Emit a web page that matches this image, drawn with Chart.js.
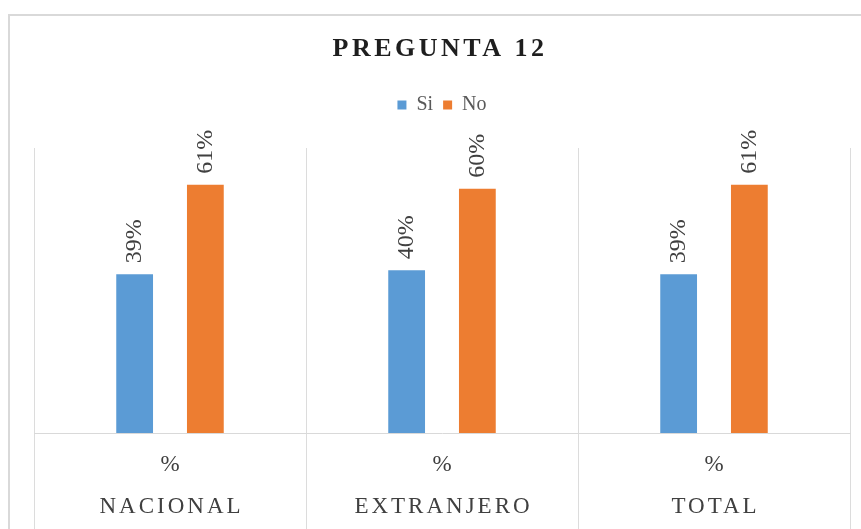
<!DOCTYPE html>
<html>
<head>
<meta charset="utf-8">
<script src="https://cdn.jsdelivr.net/npm/chart.js@4"></script>
<style>
    html, body { margin: 0; padding: 0; background: #fff; }
    #wrap { position: relative; width: 861px; height: 529px; }
    #frame { position: absolute; left: 8px; top: 14px; right: 0; bottom: 0;
             border-top: 2px solid #d9d9d9; border-left: 2px solid #d9d9d9; }
    canvas { position: absolute; left: 0; top: 0; }
</style>
</head>
<body>
<div id="wrap">
    <div id="frame"></div>
    <canvas id="pregunta12" width="861" height="529"></canvas>
</div>
<script>
const categories = ['NACIONAL', 'EXTRANJERO', 'TOTAL'];
const subLabel = '%';
const siValues = [39, 40, 39];
const noValues = [61, 60, 61];
const chartTitle = 'PREGUNTA 12';

const serif = '"Liberation Serif", "Times New Roman", serif';

// rotated value labels above each bar
const barLabels = {
    id: 'barLabels',
    afterDatasetsDraw(chart) {
        const ctx = chart.ctx;
        ctx.save();
        ctx.font = '24px ' + serif;
        ctx.fillStyle = '#404040';
        ctx.textAlign = 'left';
        ctx.textBaseline = 'middle';
        chart.data.datasets.forEach((ds, di) => {
            chart.getDatasetMeta(di).data.forEach((bar, i) => {
                ctx.save();
                ctx.translate(bar.x, bar.y - 11);
                ctx.rotate(-Math.PI / 2);
                ctx.fillText(ds.data[i] + '%', 0, 0);
                ctx.restore();
            });
        });
        ctx.restore();
    }
};

// title and two-level category labels, drawn with letter spacing
const textLayer = {
    id: 'textLayer',
    afterDraw(chart) {
        const ctx = chart.ctx;
        const x = chart.scales.x;
        ctx.save();
        ctx.textAlign = 'center';
        ctx.textBaseline = 'middle';
        ctx.fillStyle = '#1e1e1e';
        ctx.letterSpacing = '3.5px';
        ctx.font = 'bold 26px ' + serif;
        ctx.fillText(chartTitle, 440, 49);
        ctx.fillStyle = '#404040';
        categories.forEach((c, i) => {
            const px = x.getPixelForValue(i);
            ctx.letterSpacing = '0px';
            ctx.font = '23px ' + serif;
            ctx.fillText(subLabel, px, 465);
            ctx.letterSpacing = '3px';
            ctx.font = '23px ' + serif;
            ctx.fillText(c, px + 1.5, 507);
        });
        ctx.restore();
    }
};

// extra room between legend and plot
const legendGap = {
    id: 'legendGap',
    beforeInit(chart) {
        const fit = chart.legend.fit;
        chart.legend.fit = function () {
            fit.bind(chart.legend)();
            this.height += 23;
        };
    }
};

new Chart(document.getElementById('pregunta12'), {
    type: 'bar',
    data: {
        labels: categories,
        datasets: [
            { label: 'Si', data: siValues, backgroundColor: '#5b9bd5' },
            { label: 'No', data: noValues, backgroundColor: '#ed7d31' }
        ]
    },
    options: {
        responsive: false,
        animation: false,
        datasets: { bar: { categoryPercentage: 0.52, barPercentage: 0.52 } },
        layout: { padding: { top: 85, left: 34, right: 11, bottom: 0 } },
        plugins: {
            title: { display: false },
            tooltip: { enabled: false },
            legend: {
                position: 'top',
                labels: {
                    font: { family: serif, size: 20 },
                    color: '#595959',
                    boxWidth: 9,
                    boxHeight: 9,
                    padding: 10
                }
            }
        },
        scales: {
            x: {
                grid: { offset: true, color: '#dcdcdc', tickLength: 96, tickColor: '#dcdcdc' },
                border: { color: '#d9d9d9' },
                ticks: { display: false }
            },
            y: {
                display: false,
                min: 0,
                max: 70
            }
        }
    },
    plugins: [barLabels, textLayer, legendGap]
});
</script>
</body>
</html>
